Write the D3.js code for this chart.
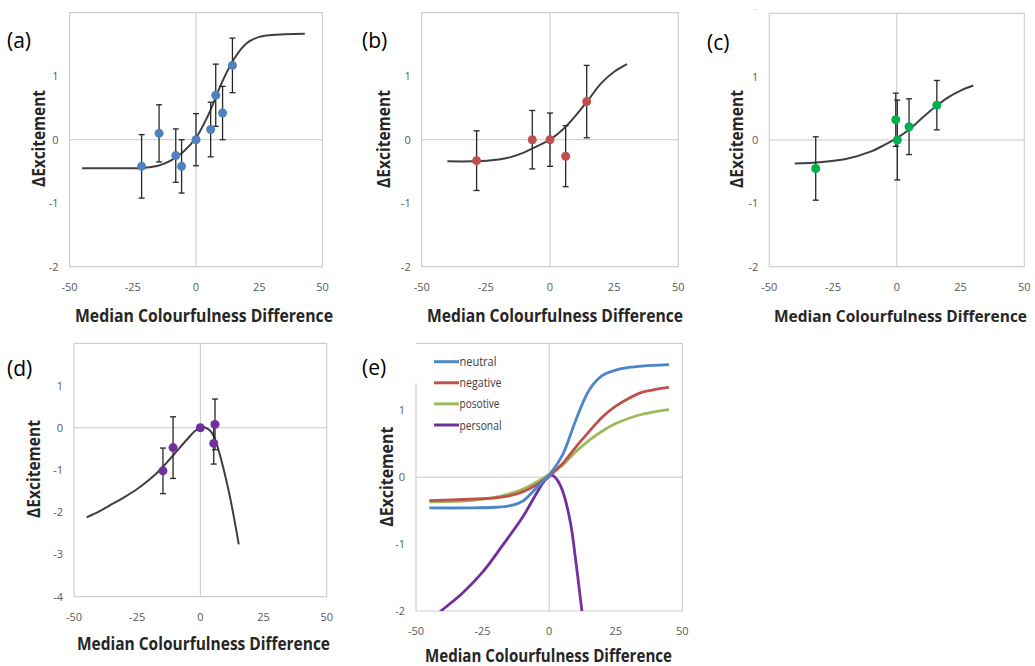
<!DOCTYPE html>
<html>
<head>
<meta charset="utf-8">
<script src="https://cdn.jsdelivr.net/npm/d3@7"></script>
<style>
  body { margin: 0; background: #fff; }
  svg { display: block; }
  text { font-family: "Open Sans", "Noto Sans", sans-serif; }
</style>
</head>
<body>
<svg id="chart" width="1035" height="666"></svg>
<script>
// tick values
const xTicks = [-50, -25, 0, 25, 50];
const yTicksStd = [-2, -1, 0, 1, 2];
const yTicksD = [-4, -3, -2, -1, 0, 1];
const yTicksE = [-2, -1, 0, 1];

// measured points: x, y, half error
const pointsA = [
  { x: -21.5, y: -0.42, e: 0.5 },
  { x: -14.6, y: 0.1, e: 0.45 },
  { x: -8.0, y: -0.25, e: 0.42 },
  { x: -5.7, y: -0.42, e: 0.42 },
  { x: 0, y: 0, e: 0.41 },
  { x: 5.8, y: 0.16, e: 0.43 },
  { x: 7.8, y: 0.7, e: 0.49 },
  { x: 10.5, y: 0.42, e: 0.42 },
  { x: 14.4, y: 1.17, e: 0.43 }
];
const pointsB = [
  { x: -28.6, y: -0.33, e: 0.47 },
  { x: -6.9, y: 0.0, e: 0.46 },
  { x: 0, y: 0, e: 0.42 },
  { x: 6.1, y: -0.26, e: 0.48 },
  { x: 14.3, y: 0.6, e: 0.57 }
];
const pointsC = [
  { x: -31.8, y: -0.45, e: 0.5 },
  { x: -0.4, y: 0.32, e: 0.42 },
  { x: 0.2, y: 0, e: 0.63 },
  { x: 4.8, y: 0.21, e: 0.44 },
  { x: 15.7, y: 0.55, e: 0.39 }
];
const pointsD = [
  { x: -14.8, y: -1.02, e: 0.54 },
  { x: -10.8, y: -0.47, e: 0.73 },
  { x: 0, y: 0, e: 0 },
  { x: 5.8, y: 0.08, e: 0.6 },
  { x: 5.3, y: -0.37, e: 0.49 }
];

// fitted curves
const fitA = [[-45, -0.45], [-30, -0.45], [-20, -0.44], [-15, -0.41], [-10, -0.33], [-5, -0.19], [0, 0.03],
  [5, 0.4], [10, 0.88], [15, 1.27], [20, 1.52], [25, 1.62], [30, 1.65], [35, 1.66], [43, 1.67]];
const fitB = [[-40, -0.34], [-30, -0.34], [-20, -0.31], [-15, -0.27], [-10, -0.2], [-5, -0.1], [0, 0.0],
  [5, 0.16], [10, 0.38], [15, 0.63], [20, 0.89], [25, 1.07], [30, 1.19]];
const fitC = [[-40, -0.37], [-30, -0.35], [-20, -0.3], [-10, -0.18], [-5, -0.08], [0, 0.03],
  [5, 0.17], [10, 0.35], [15, 0.52], [20, 0.67], [25, 0.78], [30, 0.86]];
const fitD = [[-45, -2.12], [-40, -1.98], [-35, -1.81], [-30, -1.64], [-25, -1.45], [-20, -1.22], [-15, -0.94],
  [-10, -0.6], [-5, -0.26], [-2, -0.07], [1, 0.02], [3, -0.03], [4.6, -0.12], [6, -0.3], [8, -0.7], [10, -1.18],
  [12, -1.72], [14, -2.35], [15.2, -2.76]];

const neutral = [[-45, -0.46], [-30, -0.46], [-20, -0.45], [-15, -0.43], [-10, -0.36], [-5, -0.17], [0, 0.03],
  [5, 0.33], [10, 0.85], [15, 1.3], [20, 1.52], [25, 1.6], [30, 1.64], [35, 1.66], [45, 1.68]];
const negative = [[-45, -0.35], [-30, -0.33], [-20, -0.31], [-15, -0.28], [-10, -0.22], [-5, -0.12], [0, 0.02],
  [5, 0.2], [10, 0.45], [15, 0.68], [20, 0.9], [25, 1.06], [30, 1.18], [35, 1.27], [40, 1.31], [45, 1.34]];
const posotive = [[-45, -0.37], [-30, -0.35], [-20, -0.3], [-15, -0.25], [-10, -0.18], [-5, -0.08], [0, 0.04],
  [5, 0.18], [10, 0.38], [15, 0.55], [20, 0.69], [25, 0.8], [30, 0.88], [35, 0.94], [40, 0.98], [45, 1.01]];
const personal = [[-42, -2.05], [-40, -1.98], [-32.5, -1.73], [-25, -1.42], [-17.5, -1.02], [-10, -0.6], [-5, -0.26],
  [-2, -0.07], [1, 0.03], [3, -0.04], [5, -0.2], [8, -0.68], [10, -1.25], [12, -1.9], [12.6, -2.1]];

const legendNames = ["neutral", "negative", "posotive", "personal"];
const legendColors = ["#4a86c8", "#c0504d", "#9bbb59", "#7030a0"];

const svg = d3.select("#chart");
const defs = svg.append("defs");

function panel(cfg) {
  const x = d3.scaleLinear().domain([-50, 50]).range([cfg.left, cfg.right]);
  const y = d3.scaleLinear().domain(cfg.ydom).range([cfg.bottom, cfg.top]);
  const g = svg.append("g");

  defs.append("clipPath").attr("id", "clip-" + cfg.id)
    .append("rect")
    .attr("x", cfg.left).attr("y", cfg.top)
    .attr("width", cfg.right - cfg.left).attr("height", cfg.bottom - cfg.top);

  // zero lines
  g.append("line")
    .attr("x1", x(0)).attr("x2", x(0)).attr("y1", cfg.top).attr("y2", cfg.bottom)
    .attr("stroke", "#c8c8c8").attr("stroke-width", 1);
  g.append("line")
    .attr("x1", cfg.left).attr("x2", cfg.right).attr("y1", y(0)).attr("y2", y(0))
    .attr("stroke", "#c8c8c8").attr("stroke-width", 1);

  // frame
  const frameTop = cfg.leftStart || cfg.top;
  g.append("path")
    .attr("d", `M${cfg.left},${frameTop}V${cfg.bottom}H${cfg.right}V${cfg.top}H${cfg.left}` + (cfg.leftStart ? "" : "Z"))
    .attr("fill", "none").attr("stroke", "#cfcfcf").attr("stroke-width", 1.2);

  // x tick labels
  g.selectAll(".xt").data(xTicks).enter().append("text")
    .attr("x", d => x(d)).attr("y", cfg.bottom + 24)
    .attr("text-anchor", "middle").attr("font-size", 11).attr("fill", "#595959")
    .text(d => d);

  // y tick labels
  const yt = g.selectAll(".yt").data(cfg.yticks).enter().append("text")
    .attr("x", cfg.left - 11).attr("y", d => y(d) + 4)
    .attr("text-anchor", "end").attr("font-size", 11).attr("fill", "#595959")
    .text(d => d);
  if (cfg.clipTop) {
    defs.append("clipPath").attr("id", "cliptop-" + cfg.id)
      .append("rect").attr("x", cfg.left - 30).attr("y", cfg.top - 8).attr("width", 30).attr("height", 4);
    yt.filter(d => d === cfg.ydom[1]).attr("clip-path", `url(#cliptop-${cfg.id})`);
  }

  // axis titles
  g.append("text")
    .attr("x", cfg.xt[0]).attr("y", cfg.xt[1])
    .attr("font-size", cfg.xt[3] || 18).attr("font-weight", "bold").attr("fill", "#262626")
    .attr("textLength", cfg.xt[2]).attr("lengthAdjust", "spacingAndGlyphs")
    .text("Median Colourfulness Difference");
  g.append("text")
    .attr("transform", `translate(${cfg.yt[0]},${cfg.yt[1]}) rotate(-90)`)
    .attr("text-anchor", "middle")
    .attr("font-size", 18).attr("font-weight", "bold").attr("fill", "#262626")
    .attr("textLength", cfg.yt[2]).attr("lengthAdjust", "spacingAndGlyphs")
    .text("\u0394Excitement");

  // panel label
  g.append("text")
    .attr("x", cfg.lab[0]).attr("y", cfg.lab[1])
    .attr("font-size", 21).attr("fill", "#000")
    .text(cfg.label);

  const line = d3.line().x(d => x(d[0])).y(d => y(d[1])).curve(d3.curveCatmullRom.alpha(0.5));
  const plot = g.append("g").attr("clip-path", `url(#clip-${cfg.id})`);

  (cfg.curves || []).forEach(c => {
    plot.append("path").datum(c.data)
      .attr("d", line)
      .attr("fill", "none").attr("stroke", c.color).attr("stroke-width", c.width);
  });

  if (cfg.points) {
    const eb = g.append("g").attr("stroke", "#262626").attr("stroke-width", 1.3);
    cfg.points.filter(d => d.e > 0).forEach(d => {
      eb.append("line").attr("x1", x(d.x)).attr("x2", x(d.x)).attr("y1", y(d.y - d.e)).attr("y2", y(d.y + d.e));
      eb.append("line").attr("x1", x(d.x) - 3).attr("x2", x(d.x) + 3).attr("y1", y(d.y - d.e)).attr("y2", y(d.y - d.e));
      eb.append("line").attr("x1", x(d.x) - 3).attr("x2", x(d.x) + 3).attr("y1", y(d.y + d.e)).attr("y2", y(d.y + d.e));
    });
    g.selectAll(".pt").data(cfg.points).enter().append("circle")
      .attr("cx", d => x(d.x)).attr("cy", d => y(d.y)).attr("r", 4.5)
      .attr("fill", cfg.pointColor);
  }

  if (cfg.legend) {
    const lg = g.append("g");
    const widths = [37, 42, 40, 42];
    cfg.legend.forEach((name, i) => {
      const ly = 361.7 + i * 21.1;
      lg.append("line").attr("x1", 434).attr("x2", 459).attr("y1", ly).attr("y2", ly)
        .attr("stroke", legendColors[i]).attr("stroke-width", 3);
      lg.append("text").attr("x", 459.5).attr("y", ly + 4.5)
        .attr("font-size", 12.5).attr("fill", "#404040")
        .attr("textLength", widths[i]).attr("lengthAdjust", "spacingAndGlyphs")
        .text(name);
    });
  }
}

const curveGrey = "#3f3f3f";

panel({
  id: "a", label: "(a)", lab: [7, 48], left: 69.5, right: 322.5, top: 12.7, bottom: 266.7,
  ydom: [-2, 2], yticks: yTicksStd, clipTop: true,
  xt: [75, 322, 258], yt: [45, 138.5, 97],
  curves: [{ data: fitA, color: curveGrey, width: 2 }],
  points: pointsA, pointColor: "#4f81bd"
});
panel({
  id: "b", label: "(b)", lab: [362, 48], left: 421.7, right: 678.3, top: 12.7, bottom: 266.7,
  ydom: [-2, 2], yticks: yTicksStd, clipTop: true,
  xt: [427, 322, 256], yt: [390, 139, 98],
  curves: [{ data: fitB, color: curveGrey, width: 2 }],
  points: pointsB, pointColor: "#c0504d"
});
panel({
  id: "c", label: "(c)", lab: [707, 50], left: 769.3, right: 1024.3, top: 13.3, bottom: 266.7,
  ydom: [-2, 2], yticks: yTicksStd, clipTop: true,
  xt: [774, 322, 253, 16], yt: [743, 139, 98],
  curves: [{ data: fitC, color: curveGrey, width: 2 }],
  points: pointsC, pointColor: "#00b050"
});
panel({
  id: "d", label: "(d)", lab: [7, 376], left: 74, right: 326.7, top: 343.3, bottom: 596.7,
  ydom: [-4, 2], yticks: yTicksD,
  xt: [77, 650, 253], yt: [40, 469, 98],
  curves: [{ data: fitD, color: curveGrey, width: 2 }],
  points: pointsD, pointColor: "#7030a0"
});
panel({
  id: "e", label: "(e)", lab: [362, 375], left: 416, right: 682.3, top: 343.3, bottom: 611,
  leftStart: 383,
  ydom: [-2, 2], yticks: yTicksE,
  xt: [425, 662, 247], yt: [393, 476.7, 100],
  curves: [
    { data: personal, color: legendColors[3], width: 2.8 },
    { data: posotive, color: legendColors[2], width: 2.8 },
    { data: negative, color: legendColors[1], width: 2.8 },
    { data: neutral, color: legendColors[0], width: 2.8 }
  ],
  legend: legendNames
});
</script>
</body>
</html>
